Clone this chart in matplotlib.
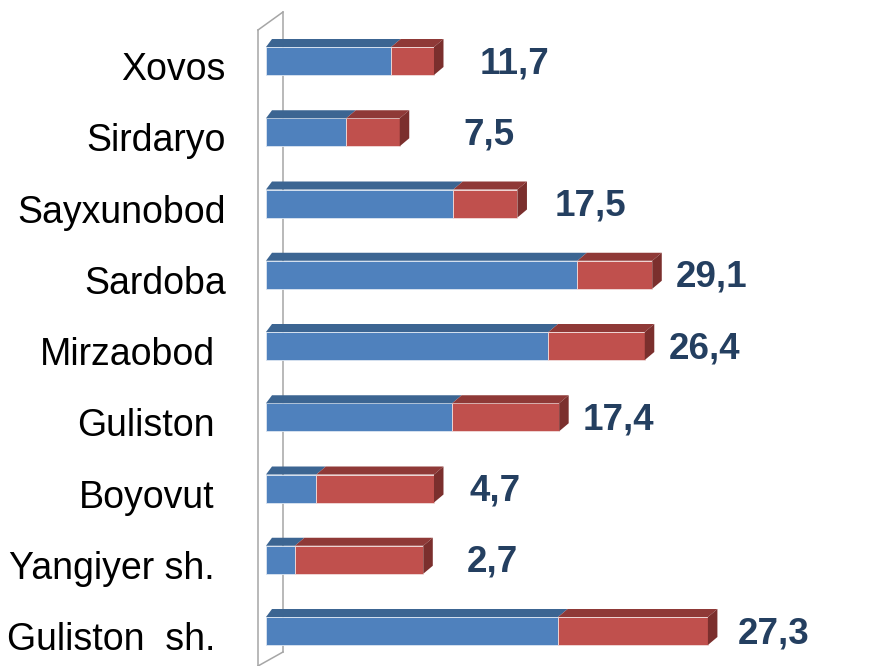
import matplotlib
matplotlib.use("Agg")
import matplotlib.pyplot as plt
from matplotlib.patches import Polygon
from matplotlib.transforms import ScaledTranslation, blended_transform_factory
from matplotlib.lines import Line2D

# ---- data ----
categories = ["Xovos", "Sirdaryo", "Sayxunobod", "Sardoba", "Mirzaobod",
              "Guliston", "Boyovut", "Yangiyer sh.", "Guliston  sh."]
blue_values = [11.7, 7.5, 17.5, 29.1, 26.4, 17.4, 4.7, 2.7, 27.3]
red_values = [4.0, 5.0, 6.0, 7.0, 9.0, 10.0, 11.0, 12.0, 14.0]
value_labels = ["11,7", "7,5", "17,5", "29,1", "26,4", "17,4", "4,7", "2,7", "27,3"]

# ---- style / layout ----
label_gap_px = [36, 54, 28, 14, 14, 14, 26, 34, 20]
cat_right_px = [226, 226, 226, 226, 215, 215, 215, 215, 215]

W, H, DPI = 887, 666, 100
X0_PX = 266.0          # pixel of value 0 (front face)
XSCALE = 10.70         # px per unit
Y0_PX = 61.0           # pixel of first category center
YSTEP = 71.25          # px per category
BAR_H_PX = 28.0
DEPTH_DX_L = 6.0
DEPTH_DX = 9.5
DEPTH_DY = 8.0

BLUE_FRONT = "#4F81BD"
BLUE_TOP = "#3C6592"
RED_FRONT = "#C0504D"
RED_TOP = "#8F3937"
RED_SIDE = "#7B2F2D"
LABEL_COLOR = "#243F60"

fig = plt.figure(figsize=(W / DPI, H / DPI), dpi=DPI)
ax = fig.add_axes([0, 0, 1, 1])
ax.set_xlim(-X0_PX / XSCALE, (W - X0_PX) / XSCALE)
ax.set_ylim((H - Y0_PX) / YSTEP, -Y0_PX / YSTEP)
ax.axis("off")

dxl = DEPTH_DX_L / XSCALE
dx = DEPTH_DX / XSCALE
dy = DEPTH_DY / YSTEP
hh = BAR_H_PX / YSTEP / 2

# wall (3D side panel)
wall_front_x = (258 - X0_PX) / XSCALE
wall_back_x = (283 - X0_PX) / XSCALE
wall_top_front = (30 - Y0_PX) / YSTEP
wall_top_back = (12 - Y0_PX) / YSTEP
wall_bot_back = (652 - Y0_PX) / YSTEP
wall_bot_front = (H - Y0_PX) / YSTEP
wall_col = "#A6A6A6"
ax.add_line(Line2D([wall_front_x, wall_front_x], [wall_top_front, wall_bot_front + 0.5],
                   color=wall_col, lw=1.1, zorder=1))
ax.add_line(Line2D([wall_back_x, wall_back_x], [wall_top_back, wall_bot_back],
                   color=wall_col, lw=1.1, zorder=1))
ax.add_line(Line2D([wall_front_x, wall_back_x], [wall_top_front, wall_top_back],
                   color=wall_col, lw=1.1, zorder=1))
ax.add_line(Line2D([wall_back_x, wall_front_x], [wall_bot_back, wall_bot_front],
                   color=wall_col, lw=1.1, zorder=1))

for i, (b, r) in enumerate(zip(blue_values, red_values)):
    yt, yb = i - hh, i + hh
    x1 = b
    x2 = b + r
    # front faces
    ax.add_patch(Polygon([(0, yt), (x1, yt), (x1, yb), (0, yb)], closed=True,
                         facecolor=BLUE_FRONT, edgecolor="#DCE6F2", lw=0.6, zorder=3))
    ax.add_patch(Polygon([(x1, yt), (x2, yt), (x2, yb), (x1, yb)], closed=True,
                         facecolor=RED_FRONT, edgecolor="#F2DCDB", lw=0.6, zorder=3))
    # top faces
    ax.add_patch(Polygon([(0, yt), (x1, yt), (x1 + dx, yt - dy), (dxl, yt - dy)], closed=True,
                         facecolor=BLUE_TOP, edgecolor="none", zorder=3))
    ax.add_patch(Polygon([(x1, yt), (x2, yt), (x2 + dx, yt - dy), (x1 + dx, yt - dy)], closed=True,
                         facecolor=RED_TOP, edgecolor="none", zorder=3))
    # side face
    ax.add_patch(Polygon([(x2, yt), (x2 + dx, yt - dy), (x2 + dx, yb - dy), (x2, yb)], closed=True,
                         facecolor=RED_SIDE, edgecolor="none", zorder=3))
    # value label
    tr = ax.transData + ScaledTranslation((DEPTH_DX + label_gap_px[i]) / DPI, -12 / DPI,
                                          fig.dpi_scale_trans)
    ax.text(x2, i, value_labels[i], transform=tr, ha="left", va="baseline",
            fontsize=26.5, fontweight="bold", color=LABEL_COLOR,
            family=["Liberation Sans", "DejaVu Sans"], zorder=5)
    # category label
    ct = blended_transform_factory(fig.dpi_scale_trans, ax.transData) + \
        ScaledTranslation(0, -19 / DPI, fig.dpi_scale_trans)
    ax.text(cat_right_px[i] / DPI, i, categories[i], transform=ct, ha="right", va="baseline",
            fontsize=27, color="black", family=["Liberation Sans", "DejaVu Sans"],
            zorder=5, clip_on=False)

fig.savefig("out.png", dpi=DPI)
